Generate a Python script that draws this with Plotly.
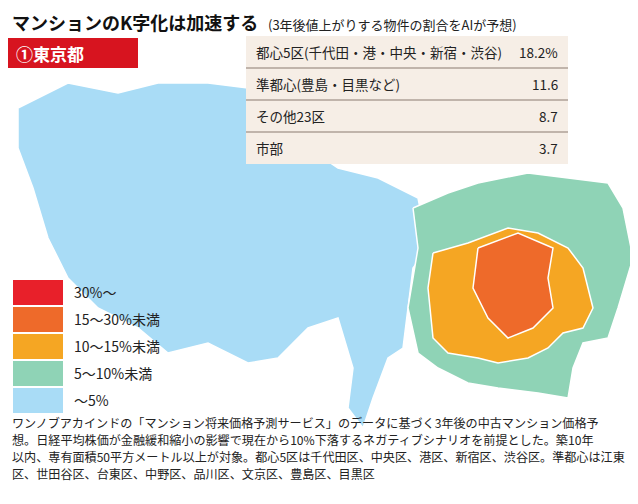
import plotly.graph_objects as go

title = "マンションのK字化は加速する"
subtitle = "(3年後値上がりする物件の割合をAIが予想)"
region_label = "①東京都"
table_labels = ["都心5区(千代田・港・中央・新宿・渋谷)", "準都心(豊島・目黒など)", "その他23区", "市部"]
table_values = ["18.2%", "11.6", "8.7", "3.7"]
legend_labels = ["30%〜", "15〜30%未満", "10〜15%未満", "5〜10%未満", "〜5%"]
legend_colors = ["#e8202a", "#ee6a2a", "#f5a623", "#8fd3b6", "#a9dcf6"]
note_lines = ["ワンノブアカインドの「マンション将来価格予測サービス」のデータに基づく3年後の中古マンション価格予",
              "想。日経平均株価が金融緩和縮小の影響で現在から10%下落するネガティブシナリオを前提とした。築10年",
              "以内、専有面積50平方メートル以上が対象。都心5区は千代田区、中央区、港区、新宿区、渋谷区。準都心は江東",
              "区、世田谷区、台東区、中野区、品川区、文京区、豊島区、目黒区"]

# Approximate region outlines (map drawing coordinates)
tama_x = [10,60,110,150,200,240,245,300,330,370,410,420,405,400,395,380,365,355,340,345,330,300,270,240,200,160,130,90,60,40,25,10]
tama_y = [100,75,85,75,75,80,130,140,160,170,190,240,260,300,340,350,390,420,400,360,310,320,350,355,335,345,320,300,270,230,180,140]
green_x = [405,440,470,520,560,600,615,625,610,600,575,565,560,530,490,460,430,410,400,410]
green_y = [200,185,175,165,170,175,200,250,300,330,335,360,390,385,380,375,360,345,300,240]
orange_x = [425,460,500,530,560,575,585,575,555,540,520,490,470,440,425,420]
orange_y = [245,235,220,225,240,260,300,320,325,340,350,355,350,345,330,280]
core_x = [470,510,545,540,545,525,500,480,465]
core_y = [240,225,240,270,300,320,330,310,280]

fig = go.Figure()
for xs, ys, c in [(tama_x, tama_y, legend_colors[4]), (green_x, green_y, legend_colors[3]),
                  (orange_x, orange_y, legend_colors[2]), (core_x, core_y, legend_colors[1])]:
    fig.add_trace(go.Scatter(x=xs + [xs[0]], y=ys + [ys[0]], fill="toself", fillcolor=c,
                             mode="lines", line=dict(color="white", width=1.5), hoverinfo="skip"))

shapes = []
ann = []
F = "Noto Sans CJK JP"
ann.append(dict(x=2, y=14, text=f"<b>{title}</b>", showarrow=False, xanchor="left", yanchor="middle",
                font=dict(size=18, color="#111", family=F)))
ann.append(dict(x=258, y=16, text=subtitle, showarrow=False, xanchor="left", yanchor="middle",
                font=dict(size=13, color="#222", family=F)))
shapes.append(dict(type="rect", x0=0, x1=130, y0=30, y1=60, fillcolor="#d7141f", line_width=0, layer="above"))
ann.append(dict(x=6, y=45, text=f"<b>{region_label}</b>", showarrow=False, xanchor="left", yanchor="middle",
                font=dict(size=17, color="white", family=F)))
# table
shapes.append(dict(type="rect", x0=238, x1=560, y0=28, y1=156, fillcolor="#f6eee6", line_width=0, layer="above"))
for i, (lab, val) in enumerate(zip(table_labels, table_values)):
    yc = 44 + i * 32
    ann.append(dict(x=246, y=yc, text=lab, showarrow=False, xanchor="left", yanchor="middle",
                    font=dict(size=13.5, color="#222", family=F)))
    ann.append(dict(x=552, y=yc, text=val, showarrow=False, xanchor="right", yanchor="middle",
                    font=dict(size=13.5, color="#222", family=F)))
    if i < 3:
        shapes.append(dict(type="line", x0=238, x1=560, y0=yc + 16, y1=yc + 16,
                           line=dict(color="#8a7a70", width=1), layer="above"))
# legend
for i, (lab, c) in enumerate(zip(legend_labels, legend_colors)):
    y0 = 272 + i * 27
    shapes.append(dict(type="rect", x0=5, x1=55, y0=y0, y1=y0 + 25, fillcolor=c, line_width=0, layer="above"))
    ann.append(dict(x=64, y=y0 + 12, text=lab, showarrow=False, xanchor="left", yanchor="middle",
                    font=dict(size=14, color="#222", family=F)))
for i, line in enumerate(note_lines):
    ann.append(dict(x=2, y=414 + i * 17, text=line, showarrow=False, xanchor="left", yanchor="middle",
                    font=dict(size=12.1, color="#222", family=F)))

fig.update_layout(width=638, height=504, margin=dict(l=0, r=0, t=0, b=0),
                  plot_bgcolor="white", paper_bgcolor="white", showlegend=False,
                  xaxis=dict(range=[0, 638], visible=False, fixedrange=True),
                  yaxis=dict(range=[504, 0], visible=False, fixedrange=True),
                  shapes=shapes, annotations=ann)
fig.write_html("out.html")
